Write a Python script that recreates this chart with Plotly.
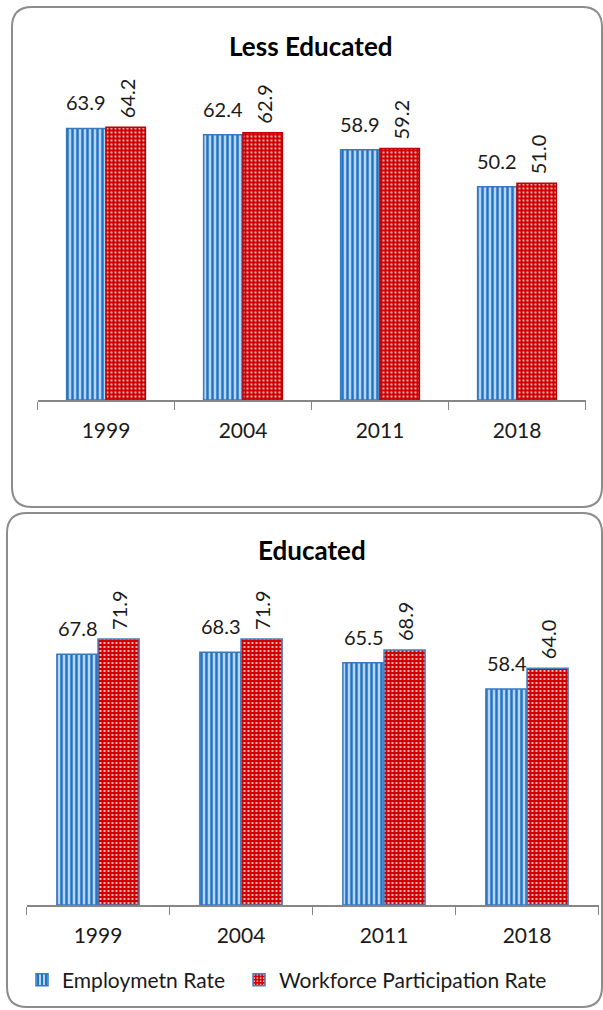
import plotly.graph_objects as go

# ---- data ----
years = ["1999", "2004", "2011", "2018"]
less_emp = [63.9, 62.4, 58.9, 50.2]
less_wpr = [64.2, 62.9, 59.2, 51.0]
edu_emp = [67.8, 68.3, 65.5, 58.4]
edu_wpr = [71.9, 71.9, 68.9, 64.0]
series_names = ["Employmetn Rate", "Workforce Participation Rate"]
panel_titles = ["Less Educated", "Educated"]

W, H = 603, 1010
FONT = "Lato"
TXT = "#1a1a1a"
BLUE = "#1F74C8"
BLUE_EDGE = "#3A78BE"
RED = "#D00000"
RED_EDGE_TOP = "#C00000"
RED_EDGE_BOT = "#4A7EBB"


def px(x):
    return x / W


def py(y):
    return 1 - y / H


def rounded_rect(x0, y0, x1, y1, r):
    rx, ry = r / W, r / H
    X0, X1 = px(x0), px(x1)
    Y0, Y1 = py(y0), py(y1)  # Y0 top, Y1 bottom
    return (f"M{X0+rx},{Y0} L{X1-rx},{Y0} Q{X1},{Y0} {X1},{Y0-ry} "
            f"L{X1},{Y1+ry} Q{X1},{Y1} {X1-rx},{Y1} "
            f"L{X0+rx},{Y1} Q{X0},{Y1} {X0},{Y1+ry} "
            f"L{X0},{Y0-ry} Q{X0},{Y0} {X0+rx},{Y0} Z")


fig = go.Figure()

panels = [
    dict(emp=less_emp, wpr=less_wpr, xa="x", ya="y", red_edge=RED_EDGE_TOP, legend=False),
    dict(emp=edu_emp, wpr=edu_wpr, xa="x2", ya="y2", red_edge=RED_EDGE_BOT, legend=True),
]

for p in panels:
    fig.add_trace(go.Bar(
        x=years, y=p["emp"], name=series_names[0], xaxis=p["xa"], yaxis=p["ya"],
        showlegend=p["legend"], offsetgroup="emp", legend="legend",
        marker=dict(color=BLUE, line=dict(color=BLUE_EDGE, width=1.5),
                    pattern=dict(shape="|", fgcolor="white", bgcolor=BLUE,
                                 size=5, solidity=0.35, fillmode="replace")),
    ))
    fig.add_trace(go.Bar(
        x=years, y=p["wpr"], name=series_names[1], xaxis=p["xa"], yaxis=p["ya"],
        showlegend=p["legend"], offsetgroup="wpr", legend="legend2",
        marker=dict(color=RED, line=dict(color=p["red_edge"], width=1.5),
                    pattern=dict(shape=".", fgcolor="white", bgcolor=RED,
                                 size=4, solidity=0.18, fillmode="replace")),
    ))

annotations = []
for p in panels:
    for i, (e, w) in enumerate(zip(p["emp"], p["wpr"])):
        annotations.append(dict(
            x=i, y=e, xref=p["xa"], yref=p["ya"], text=f"{e:.1f}",
            showarrow=False, xshift=-20, yshift=12, yanchor="bottom",
            font=dict(family=FONT, size=20, color=TXT)))
        annotations.append(dict(
            x=i, y=w, xref=p["xa"], yref=p["ya"], text=f"{w:.1f}",
            showarrow=False, xshift=21, yshift=7, yanchor="bottom",
            textangle=-90, font=dict(family=FONT, size=20, color=TXT)))

annotations.append(dict(x=px(311), y=py(28), xref="paper", yref="paper",
                        text=f"<b>{panel_titles[0]}</b>", showarrow=False,
                        font=dict(family=FONT, size=26, color="black")))
annotations.append(dict(x=px(312), y=py(550), xref="paper", yref="paper",
                        text=f"<b>{panel_titles[1]}</b>", showarrow=False,
                        font=dict(family=FONT, size=26, color="black")))

shapes = [
    dict(type="path", xref="paper", yref="paper",
         path=rounded_rect(12, 7, 602, 507, 20),
         line=dict(color="#8c8c8c", width=2), layer="below"),
    dict(type="path", xref="paper", yref="paper",
         path=rounded_rect(7, 513, 602, 1007, 20),
         line=dict(color="#8c8c8c", width=2), layer="below"),
]

xaxis_common = dict(
    type="category", categoryorder="array", categoryarray=years,
    range=[-0.5, len(years) - 0.5],
    showline=True, linecolor="#868686", linewidth=1.5,
    ticks="outside", ticklen=8, tickcolor="#868686", tickson="boundaries",
    tickfont=dict(family=FONT, size=21, color=TXT), showgrid=False,
    ticklabelstandoff=11, tickangle=0, fixedrange=True,
)
yaxis_common = dict(visible=False, showgrid=False, zeroline=False, fixedrange=True)

legend_common = dict(orientation="h", y=py(980), xanchor="left", yanchor="middle",
                     font=dict(family=FONT, size=21, color=TXT),
                     bgcolor="rgba(0,0,0,0)", itemwidth=30)

fig.update_layout(
    width=W, height=H,
    margin=dict(l=0, r=0, t=0, b=0),
    paper_bgcolor="white", plot_bgcolor="rgba(0,0,0,0)",
    barmode="group", bargap=0.425, bargroupgap=0,
    xaxis=dict(domain=[px(37.5), px(585.5)], anchor="y", **xaxis_common),
    yaxis=dict(domain=[py(400), py(102.5)], range=[0, 70], anchor="x", **yaxis_common),
    xaxis2=dict(domain=[px(26.5), px(598.5)], anchor="y2", **xaxis_common),
    yaxis2=dict(domain=[py(905), py(609)], range=[0, 80], anchor="x2", **yaxis_common),
    annotations=annotations,
    shapes=shapes,
    showlegend=True,
    legend=dict(x=px(22), **legend_common),
    legend2=dict(x=px(239), **legend_common),
)

fig.write_html("out.html")
